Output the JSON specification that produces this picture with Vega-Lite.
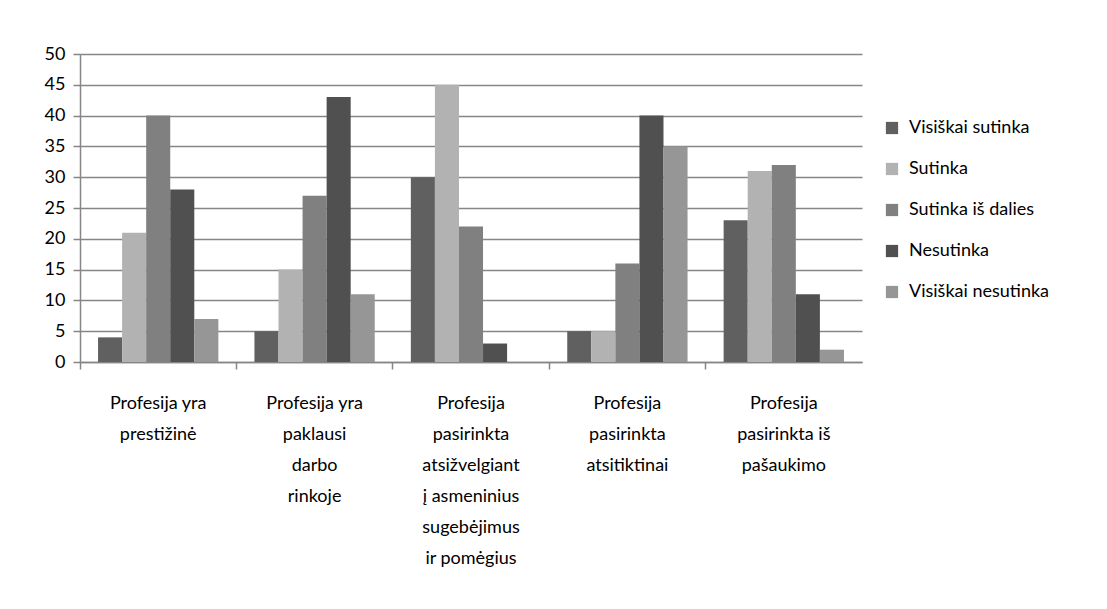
{
  "$schema": "https://vega.github.io/schema/vega-lite/v6.json",
  "autosize": {"type": "none"},
  "width": 782,
  "height": 308,
  "padding": {"left": 80, "top": 54, "right": 245, "bottom": 247},
  "background": "white",
  "data": {
    "values": [
      {"category": "Profesija yra|prestižinė", "answer": "Visiškai sutinka", "value": 4},
      {"category": "Profesija yra|prestižinė", "answer": "Sutinka", "value": 21},
      {"category": "Profesija yra|prestižinė", "answer": "Sutinka iš dalies", "value": 40},
      {"category": "Profesija yra|prestižinė", "answer": "Nesutinka", "value": 28},
      {"category": "Profesija yra|prestižinė", "answer": "Visiškai nesutinka", "value": 7},
      {"category": "Profesija yra|paklausi|darbo|rinkoje", "answer": "Visiškai sutinka", "value": 5},
      {"category": "Profesija yra|paklausi|darbo|rinkoje", "answer": "Sutinka", "value": 15},
      {"category": "Profesija yra|paklausi|darbo|rinkoje", "answer": "Sutinka iš dalies", "value": 27},
      {"category": "Profesija yra|paklausi|darbo|rinkoje", "answer": "Nesutinka", "value": 43},
      {"category": "Profesija yra|paklausi|darbo|rinkoje", "answer": "Visiškai nesutinka", "value": 11},
      {"category": "Profesija|pasirinkta|atsižvelgiant|į asmeninius|sugebėjimus|ir pomėgius", "answer": "Visiškai sutinka", "value": 30},
      {"category": "Profesija|pasirinkta|atsižvelgiant|į asmeninius|sugebėjimus|ir pomėgius", "answer": "Sutinka", "value": 45},
      {"category": "Profesija|pasirinkta|atsižvelgiant|į asmeninius|sugebėjimus|ir pomėgius", "answer": "Sutinka iš dalies", "value": 22},
      {"category": "Profesija|pasirinkta|atsižvelgiant|į asmeninius|sugebėjimus|ir pomėgius", "answer": "Nesutinka", "value": 3},
      {"category": "Profesija|pasirinkta|atsižvelgiant|į asmeninius|sugebėjimus|ir pomėgius", "answer": "Visiškai nesutinka", "value": 0},
      {"category": "Profesija|pasirinkta|atsitiktinai", "answer": "Visiškai sutinka", "value": 5},
      {"category": "Profesija|pasirinkta|atsitiktinai", "answer": "Sutinka", "value": 5},
      {"category": "Profesija|pasirinkta|atsitiktinai", "answer": "Sutinka iš dalies", "value": 16},
      {"category": "Profesija|pasirinkta|atsitiktinai", "answer": "Nesutinka", "value": 40},
      {"category": "Profesija|pasirinkta|atsitiktinai", "answer": "Visiškai nesutinka", "value": 35},
      {"category": "Profesija|pasirinkta iš|pašaukimo", "answer": "Visiškai sutinka", "value": 23},
      {"category": "Profesija|pasirinkta iš|pašaukimo", "answer": "Sutinka", "value": 31},
      {"category": "Profesija|pasirinkta iš|pašaukimo", "answer": "Sutinka iš dalies", "value": 32},
      {"category": "Profesija|pasirinkta iš|pašaukimo", "answer": "Nesutinka", "value": 11},
      {"category": "Profesija|pasirinkta iš|pašaukimo", "answer": "Visiškai nesutinka", "value": 2}
    ]
  },
  "mark": {"type": "bar"},
  "encoding": {
    "x": {
      "field": "category",
      "type": "nominal",
      "sort": null,
      "scale": {"paddingInner": 0, "paddingOuter": 0},
      "axis": {
        "title": null,
        "labelAngle": 0,
        "labelExpr": "split(datum.value, '|')",
        "labelLineHeight": 31,
        "labelBaseline": "top",
        "labelPadding": 25,
        "labelFont": "Lato",
        "labelFontSize": 18,
        "labelColor": "#000000",
        "bandPosition": 0,
        "tickSize": 7,
        "tickColor": "#868686",
        "tickWidth": 1.5,
        "domainColor": "#868686",
        "domainWidth": 1.5,
        "grid": false
      }
    },
    "xOffset": {
      "field": "answer",
      "type": "nominal",
      "sort": ["Visiškai sutinka", "Sutinka", "Sutinka iš dalies", "Nesutinka", "Visiškai nesutinka"],
      "scale": {"paddingInner": 0, "paddingOuter": 0.75}
    },
    "y": {
      "field": "value",
      "type": "quantitative",
      "scale": {"domain": [0, 50], "nice": false},
      "axis": {
        "title": null,
        "values": [0, 5, 10, 15, 20, 25, 30, 35, 40, 45, 50],
        "labelFont": "Lato",
        "labelFontSize": 18,
        "labelColor": "#000000",
        "labelPadding": 8,
        "tickSize": 7,
        "tickColor": "#868686",
        "tickWidth": 1.5,
        "domainColor": "#868686",
        "domainWidth": 1.5,
        "grid": true,
        "gridColor": "#868686",
        "gridWidth": 1.5
      }
    },
    "color": {
      "field": "answer",
      "type": "nominal",
      "sort": ["Visiškai sutinka", "Sutinka", "Sutinka iš dalies", "Nesutinka", "Visiškai nesutinka"],
      "scale": {
        "domain": ["Visiškai sutinka", "Sutinka", "Sutinka iš dalies", "Nesutinka", "Visiškai nesutinka"],
        "range": ["#606060", "#b2b2b2", "#808080", "#505050", "#969696"]
      },
      "legend": {
        "title": null,
        "orient": "none",
        "legendX": 803,
        "legendY": 65,
        "symbolType": "square",
        "symbolSize": 150,
        "symbolStrokeWidth": 0,
        "labelFont": "Lato",
        "labelFontSize": 18,
        "labelColor": "#000000",
        "labelOffset": 8,
        "rowPadding": 23
      }
    }
  },
  "config": {
    "view": {"stroke": null}
  }
}
